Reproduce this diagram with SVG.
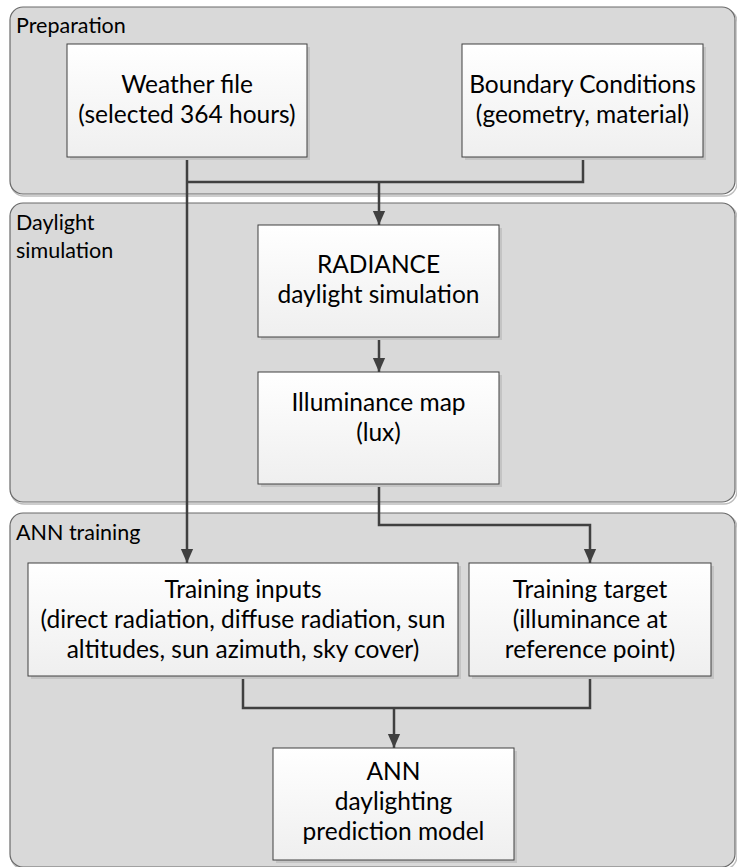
<svg xmlns="http://www.w3.org/2000/svg" width="737" height="867" viewBox="0 0 737 867">
<defs>
<linearGradient id="boxfill" x1="0" y1="0" x2="0" y2="1">
<stop offset="0" stop-color="#ffffff"/>
<stop offset="1" stop-color="#efefef"/>
</linearGradient>
<marker id="arrow" markerUnits="userSpaceOnUse" markerWidth="14" markerHeight="17" refX="16" refY="7" orient="auto" viewBox="0 0 16 14">
<path d="M0,0 L16,7 L0,14 Z" fill="#404040"/>
</marker>
<style>
.panel{fill:#d9d9d9;stroke:#6a6a6a;stroke-width:1.2}
.pshadow{fill:none;stroke:#bdbdbd;stroke-width:1.5}
.box{fill:url(#boxfill);stroke:#404040;stroke-width:1}
.bshadow{fill:#c4c4c4}
.lbl{font-family:Lato,"Liberation Sans",sans-serif;font-size:21.5px;fill:#000}
.txt{font-family:Lato,"Liberation Sans",sans-serif;font-size:24.5px;fill:#000;text-anchor:middle}
.con{fill:none;stroke:#404040;stroke-width:2.5}
</style>
</defs>

<g id="panel-preparation">
<rect class="pshadow" x="11" y="9" width="726" height="187" rx="13"/>
<rect class="panel" x="10" y="7" width="725" height="187" rx="13"/>
<text class="lbl" x="16" y="33">Preparation</text>
</g>
<g id="panel-daylight">
<rect class="pshadow" x="11" y="205" width="726" height="299" rx="13"/>
<rect class="panel" x="10" y="203" width="725" height="299" rx="13"/>
<text class="lbl" x="16" y="230">Daylight</text>
<text class="lbl" x="16" y="258">simulation</text>
</g>
<g id="panel-ann">
<rect class="pshadow" x="11" y="515" width="726" height="354" rx="13"/>
<rect class="panel" x="10" y="513" width="725" height="354" rx="13"/>
<text class="lbl" x="16" y="540">ANN training</text>
</g>

<g id="connectors">
<path class="con" d="M187,157 V563" marker-end="url(#arrow)"/>
<path class="con" d="M583,157 V182 H187"/>
<path class="con" d="M379,182 V225" marker-end="url(#arrow)"/>
<path class="con" d="M379,337 V372" marker-end="url(#arrow)"/>
<path class="con" d="M379,484 V525 H590 V563" marker-end="url(#arrow)"/>
<path class="con" d="M243,676 V708 H590 V676"/>
<path class="con" d="M394,708 V748" marker-end="url(#arrow)"/>
</g>

<g id="weather-file">
<rect class="bshadow" x="70" y="47" width="240" height="113"/>
<rect class="box" x="67" y="44" width="240" height="113"/>
<text class="txt" x="187" y="93">Weather file</text>
<text class="txt" x="187" y="123">(selected 364 hours)</text>
</g>
<g id="boundary-conditions">
<rect class="bshadow" x="465" y="47" width="241" height="113"/>
<rect class="box" x="462" y="44" width="241" height="113"/>
<text class="txt" x="582.5" y="93">Boundary Conditions</text>
<text class="txt" x="582.5" y="123">(geometry, material)</text>
</g>
<g id="radiance">
<rect class="bshadow" x="261" y="228" width="241" height="112"/>
<rect class="box" x="258" y="225" width="241" height="112"/>
<text class="txt" x="378.5" y="273">RADIANCE</text>
<text class="txt" x="378.5" y="303">daylight simulation</text>
</g>
<g id="illuminance-map">
<rect class="bshadow" x="261" y="375" width="241" height="112"/>
<rect class="box" x="258" y="372" width="241" height="112"/>
<text class="txt" x="378.5" y="411">Illuminance map</text>
<text class="txt" x="378.5" y="441">(lux)</text>
</g>
<g id="training-inputs">
<rect class="bshadow" x="31" y="566" width="430" height="113"/>
<rect class="box" x="28" y="563" width="430" height="113"/>
<text class="txt" x="243" y="598">Training inputs</text>
<text class="txt" x="243" y="628">(direct radiation, diffuse radiation, sun</text>
<text class="txt" x="243" y="658">altitudes, sun azimuth, sky cover)</text>
</g>
<g id="training-target">
<rect class="bshadow" x="472" y="566" width="242" height="113"/>
<rect class="box" x="469" y="563" width="242" height="113"/>
<text class="txt" x="590" y="598">Training target</text>
<text class="txt" x="590" y="628">(illuminance at</text>
<text class="txt" x="590" y="658">reference point)</text>
</g>
<g id="ann-model">
<rect class="bshadow" x="276" y="751" width="241" height="112"/>
<rect class="box" x="273" y="748" width="241" height="112"/>
<text class="txt" x="393.5" y="780">ANN</text>
<text class="txt" x="393.5" y="810">daylighting</text>
<text class="txt" x="393.5" y="840">prediction model</text>
</g>
</svg>
